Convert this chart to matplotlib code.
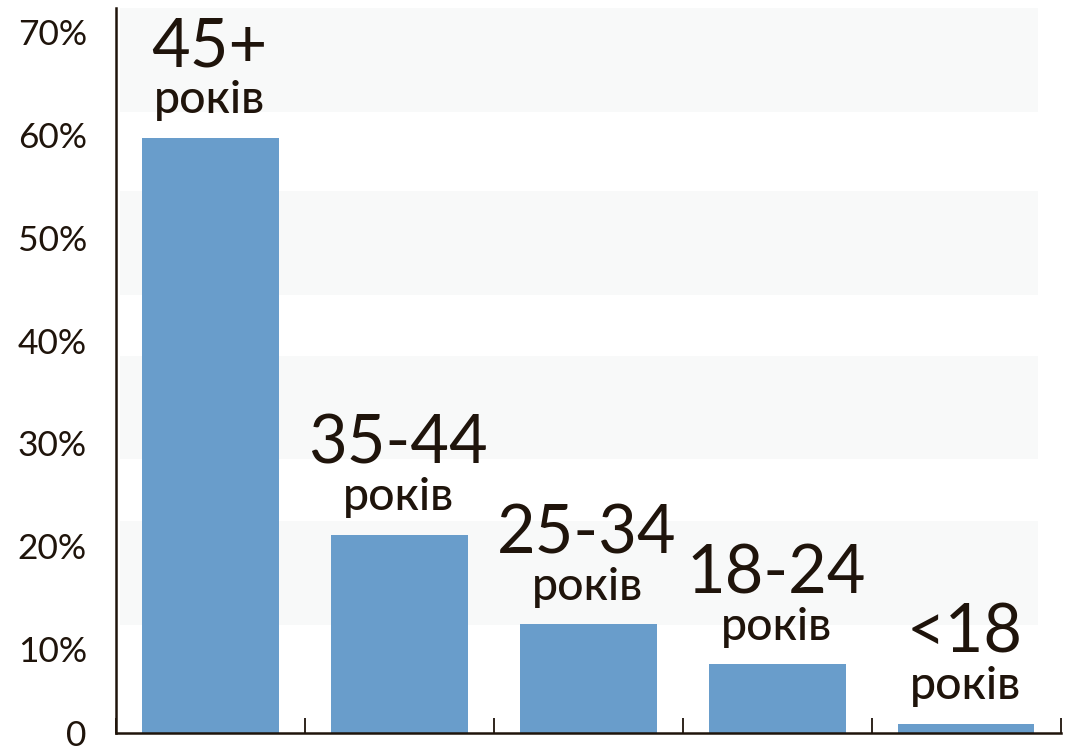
import matplotlib.pyplot as plt
from matplotlib.transforms import ScaledTranslation

# Age groups and share of people (%)
age_groups = ["45+", "35-44", "25-34", "18-24", "<18"]
shares = [57.9, 19.3, 10.6, 6.7, 0.9]
unit_label = "років"

y_ticks = [0, 10, 20, 30, 40, 50, 60, 70]
y_tick_labels = ["0", "10%", "20%", "30%", "40%", "50%", "60%", "70%"]

# light background stripes (from, to) in %
stripes = [(10.5, 20.6), (26.65, 36.7), (42.6, 52.7), (60.4, 70.5)]

bar_color = "#699dcb"
text_color = "#1f140b"
stripe_color = "#f8f9f9"

plt.rcParams['font.family'] = ['Lato', 'DejaVu Sans']

fig = plt.figure(figsize=(10.72, 7.5), dpi=100)
ax = fig.add_axes([0.1082, 0.0227, 0.8815, 0.9666])

for lo, hi in stripes:
    ax.axhspan(lo, hi, xmin=0.004, xmax=0.9757, color=stripe_color, lw=0, zorder=0)

x = range(len(age_groups))
bars = ax.bar(x, shares, width=0.72, color=bar_color, zorder=2)

for i, (name, val) in enumerate(zip(age_groups, shares)):
    ax.annotate(unit_label, (i, val), xytext=(-1, 17.5), textcoords='offset points',
                ha='center', va='baseline', fontsize=33.5, fontweight='medium',
                color=text_color, zorder=3)
    ax.annotate(name, (i, val), xytext=(-1, 51), textcoords='offset points',
                ha='center', va='baseline', fontsize=48, color=text_color, zorder=3)

ax.set_xlim(-0.5, len(age_groups) - 0.5)
ax.set_ylim(0, 70.5)

ax.set_xticks([i - 0.5 for i in range(len(age_groups) + 1)])
ax.set_xticklabels([])
ax.tick_params(axis='x', direction='in', length=11, width=1.3, color=text_color)

ax.set_yticks(y_ticks)
ax.set_yticklabels(y_tick_labels, fontsize=25.5, color=text_color)
ax.tick_params(axis='y', length=0, pad=21)
for val, lab in zip(y_ticks, ax.get_yticklabels()):
    dy = 0 if val == 0 else -19
    lab.set_transform(lab.get_transform() + ScaledTranslation(0, dy / 100, fig.dpi_scale_trans))

for side in ['top', 'right']:
    ax.spines[side].set_visible(False)
for side in ['left', 'bottom']:
    ax.spines[side].set_color(text_color)
    ax.spines[side].set_linewidth(1.8)

ax.set_facecolor('white')
fig.savefig("out.png", dpi=100)
